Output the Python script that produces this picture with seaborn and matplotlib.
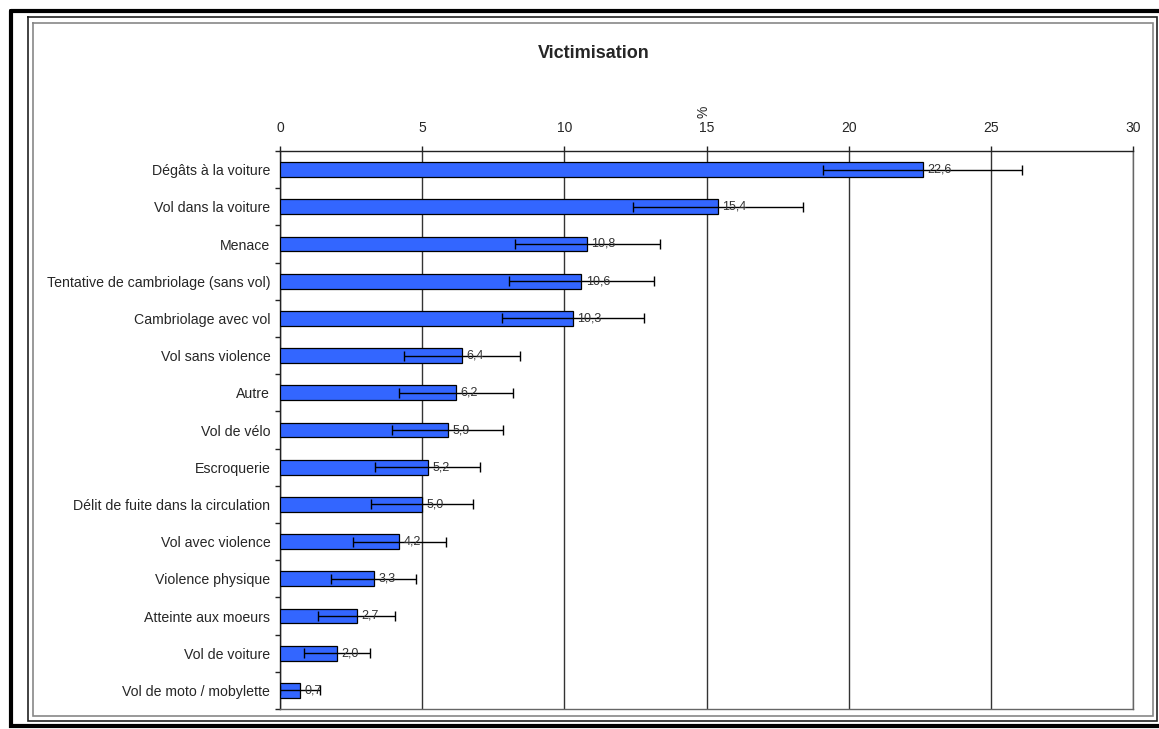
import matplotlib
matplotlib.use("Agg")
import matplotlib.pyplot as plt
import seaborn as sns
import pandas as pd
from matplotlib.lines import Line2D
from matplotlib.ticker import MultipleLocator

sns.set_theme(style="white")
plt.rcParams['font.family'] = ['Liberation Sans', 'DejaVu Sans']

# ----------------------------
# Data
# ----------------------------
categories = [
    "Dégâts à la voiture",
    "Vol dans la voiture",
    "Menace",
    "Tentative de cambriolage (sans vol)",
    "Cambriolage avec vol",
    "Vol sans violence",
    "Autre",
    "Vol de vélo",
    "Escroquerie",
    "Délit de fuite dans la circulation",
    "Vol avec violence",
    "Violence physique",
    "Atteinte aux moeurs",
    "Vol de voiture",
    "Vol de moto / mobylette",
]
values = [22.6, 15.4, 10.8, 10.6, 10.3, 6.4, 6.2, 5.9, 5.2, 5.0, 4.2, 3.3, 2.7, 2.0, 0.7]
errors = [3.5, 3.0, 2.55, 2.55, 2.5, 2.05, 2.0, 1.95, 1.85, 1.8, 1.65, 1.5, 1.35, 1.15, 0.7]
x_ticks = [0, 5, 10, 15, 20, 25, 30]

df = pd.DataFrame({"categorie": categories, "pct": values, "err": errors})

W, H = 1159, 729
fig = plt.figure(figsize=(W / 100, H / 100), dpi=100)
ax = fig.add_axes([280 / W, 1 - 709 / H, (1133 - 280) / W, (709 - 151) / H])

sns.barplot(data=df, x="pct", y="categorie", orient="h", color="#3366FF",
            saturation=1, width=0.4, edgecolor="black", linewidth=0.9,
            errorbar=None, ax=ax, zorder=3)

ax.errorbar(df["pct"], range(len(df)), xerr=df["err"], fmt="none",
            ecolor="black", elinewidth=1, capsize=3.3, capthick=1, zorder=4)

for i, v in enumerate(values):
    ax.text(v + 0.15, i, f"{v:.1f}".replace(".", ","), va="center", ha="left",
            fontsize=9, color="#333333", zorder=5)

# axis on top
ax.set_xlim(0, 30)
ax.set_ylim(len(categories) - 0.5, -0.5)
ax.set_xticks(x_ticks)
ax.xaxis.tick_top()
ax.tick_params(axis="x", which="major", top=True, bottom=False, direction="out",
               length=3.6, width=1, color="#222222", labelsize=10, pad=8)
ax.tick_params(axis="y", which="major", left=False, length=0, labelsize=10.2, pad=7)
ax.yaxis.set_minor_locator(MultipleLocator(1, offset=0.5))
ax.tick_params(axis="y", which="minor", left=True, direction="out",
               length=3.6, width=1, color="#222222")
ax.set_xlabel("")
ax.set_ylabel("")
ax.grid(axis="x", color="#333333", linewidth=1, zorder=0)
ax.set_axisbelow(True)
for s in ["top", "left"]:
    ax.spines[s].set_color("#222222")
    ax.spines[s].set_linewidth(1)
for s in ["bottom", "right"]:
    ax.spines[s].set_color("#666666")
    ax.spines[s].set_linewidth(1)

fig.text(594 / W, 1 - 54 / H, "Victimisation", ha="center", va="center",
         fontsize=13, fontweight="bold")
fig.text(703 / W, 1 - 112 / H, "%", ha="center", va="center",
         fontsize=10, rotation=90)

# frame around the chart
def frame(x0, y0, x1, y1, lw, color):
    xs = [x0 / W, x1 / W, x1 / W, x0 / W, x0 / W]
    ys = [1 - y0 / H, 1 - y0 / H, 1 - y1 / H, 1 - y1 / H, 1 - y0 / H]
    fig.add_artist(Line2D(xs, ys, transform=fig.transFigure, color=color,
                          linewidth=lw, solid_joinstyle="miter"))

frame(11, 11, 1162, 726, 3, "black")
frame(28, 17, 1157, 721, 1.2, "#222222")
frame(33, 23, 1153, 716, 1.2, "#888888")

plt.savefig("out.png", dpi=100)
